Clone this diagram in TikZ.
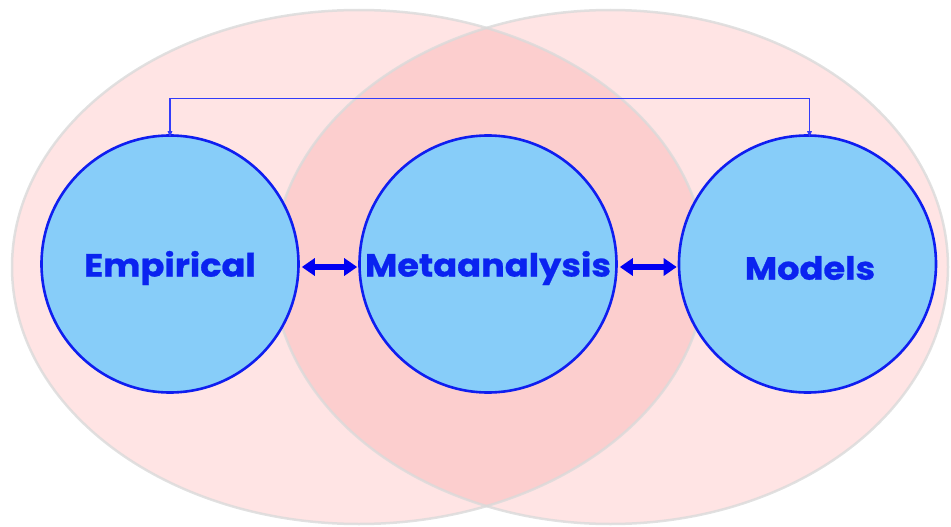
\documentclass[tikz,border=0pt]{standalone}
\usepackage{fontspec}
\setmainfont{Lato}
\newfontfamily\labelfont{Poppins}[BoldFeatures={FakeStretch=1.1,FakeBold=0.8}]
\usetikzlibrary{arrows.meta}
\definecolor{pinkA}{RGB}{255,228,228}
\definecolor{pinkB}{RGB}{252,206,206}
\definecolor{rimgrey}{RGB}{218,218,218}
\definecolor{disc}{RGB}{135,205,249}
\definecolor{discrim}{RGB}{15,30,240}
\definecolor{labelblue}{RGB}{10,35,240}
\definecolor{linkblue}{RGB}{50,60,250}
\tikzset{
  disk/.style={circle, draw=discrim, line width=2.6pt, fill=disc, minimum size=257pt, inner sep=0pt,
    font=\labelfont\fontsize{32}{36}\selectfont\bfseries, text=labelblue},
  bigarrow/.style={draw=blue!95!black, line width=6pt, {Triangle[length=13pt,width=17pt]}-{Triangle[length=13pt,width=17pt]}, shorten <=2pt, shorten >=1pt},
  toplink/.style={draw=linkblue, line width=1.1pt, {Triangle[length=6pt,width=4.5pt]}-{Triangle[length=6pt,width=4.5pt]}},
  rim/.style={draw=rimgrey, draw opacity=0.8, line width=2.5pt}
}
\begin{document}
\begin{tikzpicture}[x=1pt,y=-1pt]
\useasboundingbox (0,0) rectangle (951,527);
% big ellipses
\fill[pinkA] (359,267) ellipse [x radius=347, y radius=257];
\fill[pinkA] (610.5,267) ellipse [x radius=337.5, y radius=257];
\begin{scope}
  \clip (359,267) ellipse [x radius=347, y radius=257];
  \fill[pinkB] (610.5,267) ellipse [x radius=337.5, y radius=257];
\end{scope}
\draw[rim] (359,267) ellipse [x radius=347, y radius=257];
\draw[rim] (610.5,267) ellipse [x radius=337.5, y radius=257];
% disks
\node[disk] (emp) at (170,264) {\raisebox{-4pt}[\height][\depth]{Empirical}};
\node[disk] (meta) at (488,264) {\raisebox{-4pt}[\height][\depth]{Metaanalysis}};
\node[disk] (mod) at (807.5,264) {\raisebox{-4pt}[\height][\depth]{\hspace{5pt}Models}};
% arrows
\draw[bigarrow] ([yshift=-3pt]emp.east) -- ([yshift=-3pt]meta.west);
\draw[bigarrow] ([yshift=-3pt]meta.east) -- ([yshift=-3pt]mod.west);
\coordinate (tl) at (170,98.5);
\draw[toplink] ([yshift=-3pt]emp.north) -- (emp.north |- tl) -| ([xshift=2pt,yshift=-3pt]mod.north);
\end{tikzpicture}
\end{document}
